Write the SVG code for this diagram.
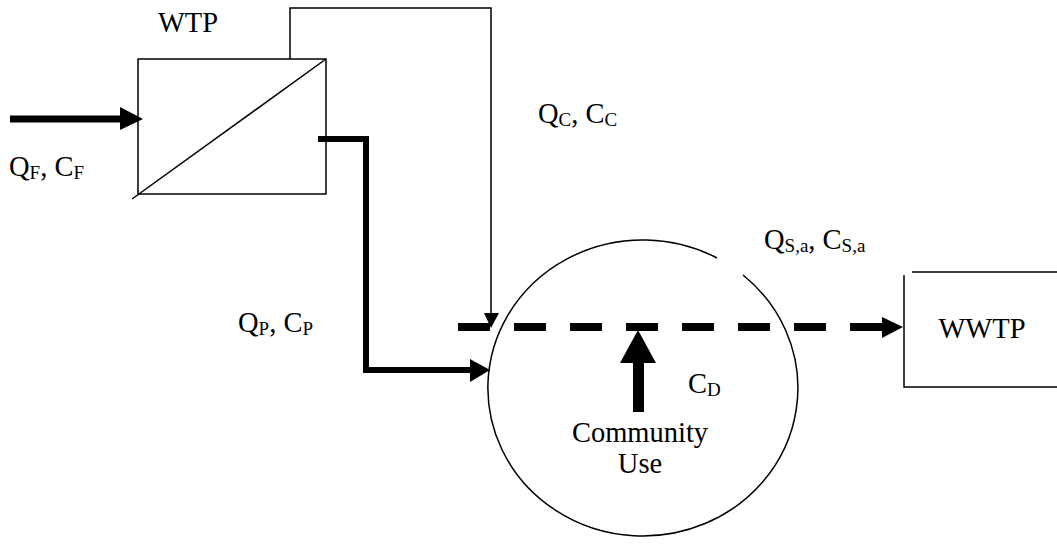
<svg xmlns="http://www.w3.org/2000/svg" width="1057" height="544" viewBox="0 0 1057 544">
<style>
text{font-family:"Liberation Serif","Times New Roman",serif;font-size:28.5px;fill:#000}
.sub{font-size:19px}
.thin{fill:none;stroke:#000;stroke-width:1.5}
.thick{fill:none;stroke:#000;stroke-width:7}
</style>
<rect width="1057" height="544" fill="#fff"/>
<g id="wtp">
<rect class="thin" x="138" y="59" width="188" height="135"/>
<line class="thin" x1="132" y1="199" x2="326" y2="59"/>
<text x="188" y="32" text-anchor="middle">WTP</text>
</g>
<g id="community">
<path class="thin" d="M743,275 A155,148 0 1 1 717,258"/>
<rect x="633" y="362" width="11" height="50" fill="#000"/>
<polygon points="620,363 656,363 638,330" fill="#000"/>
<text x="640" y="442" text-anchor="middle">Community</text>
<text x="640" y="473" text-anchor="middle">Use</text>
<text x="688" y="393">C<tspan class="sub" dy="3">D</tspan></text>
</g>
<g id="wwtp">
<line class="thin" x1="912" y1="272" x2="1057" y2="272"/>
<polyline class="thin" points="904,275 904,387 1057,387"/>
<text x="982" y="338" text-anchor="middle">WWTP</text>
</g>
<g id="connectors">
<line class="thick" x1="10" y1="119" x2="122" y2="119"/>
<polygon points="120,107 143,119 120,130" fill="#000"/>
<polyline class="thin" points="290,59 290,8 491,8 491,315"/>
<polygon points="484,313 499,313 491,328" fill="#000"/>
<polyline fill="none" stroke="#000" stroke-width="6" points="318,139 366,139 366,370 472,370"/>
<polygon points="470,359 490,370 470,382" fill="#000"/>
<line stroke="#000" stroke-width="8" stroke-dasharray="32 24" x1="458" y1="327" x2="882" y2="327"/>
<polygon points="882,317 903,327 882,338" fill="#000"/>
</g>
<g id="labels">
<text x="9" y="176">Q<tspan class="sub" dy="3">F</tspan><tspan dy="-3">, C</tspan><tspan class="sub" dy="3">F</tspan></text>
<text x="538" y="123">Q<tspan class="sub" dy="3">C</tspan><tspan dy="-3">, C</tspan><tspan class="sub" dy="3">C</tspan></text>
<text x="238" y="332">Q<tspan class="sub" dy="3">P</tspan><tspan dy="-3">, C</tspan><tspan class="sub" dy="3">P</tspan></text>
<text x="764" y="249">Q<tspan class="sub" dy="3">S,a</tspan><tspan dy="-3">, C</tspan><tspan class="sub" dy="3">S,a</tspan></text>
</g>
</svg>
